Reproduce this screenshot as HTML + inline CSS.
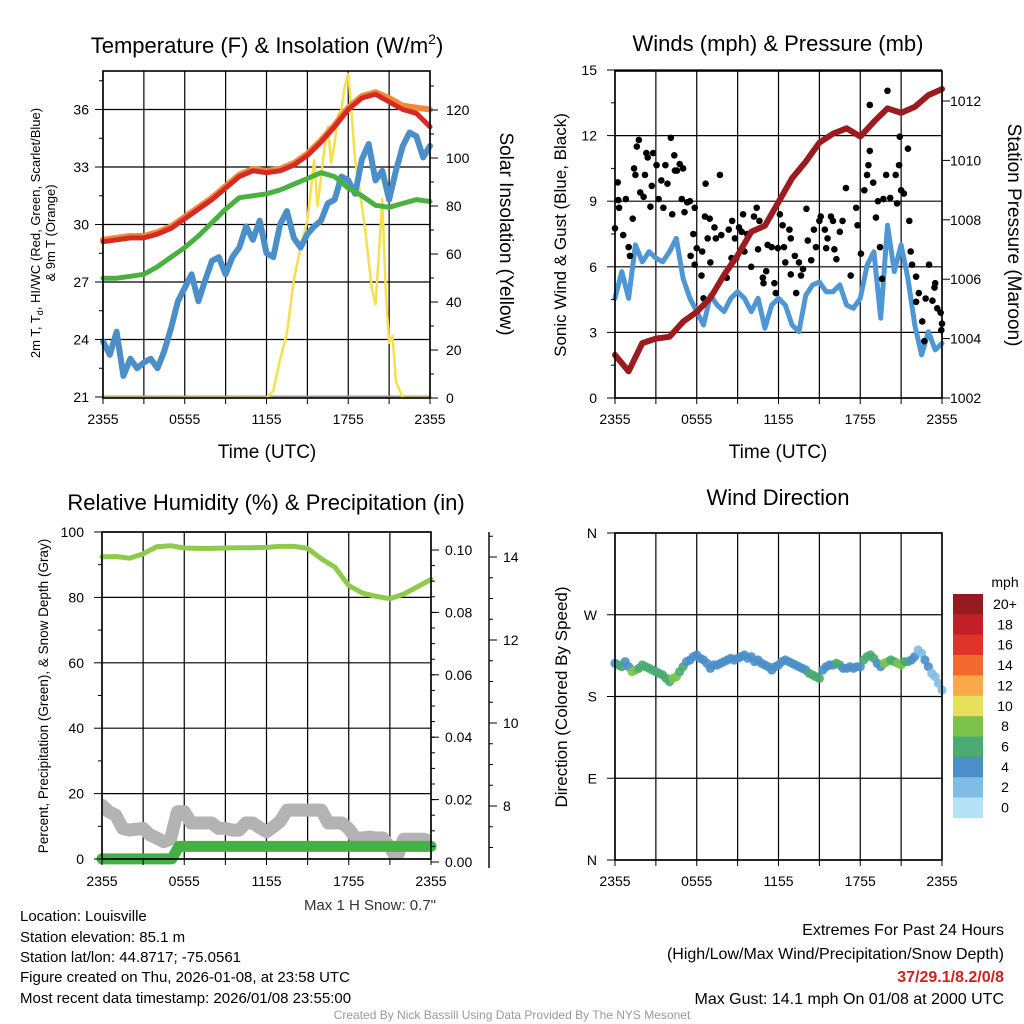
<!DOCTYPE html>
<html><head><meta charset="utf-8"><style>
html,body{margin:0;padding:0;background:#fff;}
svg{display:block;font-family:"Liberation Sans",Arial,sans-serif;}
</style></head><body>
<svg id="c" width="1024" height="1024" viewBox="0 0 1024 1024" xmlns="http://www.w3.org/2000/svg">
<g id="grids"></g><g id="marks"></g><g id="frames"></g><g id="labels"></g>
<text x="267" y="53" font-size="22" text-anchor="middle">Temperature (F) &amp; Insolation (W/m<tspan font-size="14" dy="-9">2</tspan><tspan dy="9">)</tspan></text>
<text x="778" y="51" font-size="22" text-anchor="middle">Winds (mph) &amp; Pressure (mb)</text>
<text x="266" y="510" font-size="22" text-anchor="middle">Relative Humidity (%) &amp; Precipitation (in)</text>
<text x="778" y="505" font-size="22" text-anchor="middle">Wind Direction</text>
<text x="267" y="458" font-size="19" text-anchor="middle">Time (UTC)</text>
<text x="778" y="458" font-size="19" text-anchor="middle">Time (UTC)</text>
<g font-size="13" text-anchor="middle">
<text transform="translate(40,233) rotate(-90)">2m T, T<tspan font-size="9" dy="3">d</tspan><tspan dy="-3">, HI/WC (Red, Green, Scarlet/Blue)</tspan></text>
<text transform="translate(55,233) rotate(-90)">&amp; 9m T (Orange)</text></g>
<text transform="translate(500,234) rotate(90)" font-size="19" text-anchor="middle">Solar Insolation (Yellow)</text>
<text transform="translate(566,235) rotate(-90)" font-size="17" text-anchor="middle">Sonic Wind &amp; Gust (Blue, Black)</text>
<text transform="translate(1008,235) rotate(90)" font-size="19" text-anchor="middle">Station Pressure (Maroon)</text>
<text transform="translate(48,696) rotate(-90)" font-size="13.5" text-anchor="middle">Percent, Precipitation (Green), &amp; Snow Depth (Gray)</text>
<text transform="translate(567,697) rotate(-90)" font-size="17" text-anchor="middle">Direction (Colored By Speed)</text>
<text x="436" y="910" font-size="15" fill="#333" text-anchor="end">Max 1 H Snow: 0.7"</text>
<g font-size="15">
<text x="20" y="921">Location: Louisville</text>
<text x="20" y="942">Station elevation: 85.1 m</text>
<text x="20" y="962">Station lat/lon: 44.8717; -75.0561</text>
<text x="20" y="982">Figure created on Thu, 2026-01-08, at 23:58 UTC</text>
<text x="20" y="1003">Most recent data timestamp: 2026/01/08 23:55:00</text></g>
<g font-size="16" text-anchor="end">
<text x="1004" y="935">Extremes For Past 24 Hours</text>
<text x="1004" y="959">(High/Low/Max Wind/Precipitation/Snow Depth)</text>
<text x="1004" y="982" fill="#d02020" font-weight="bold">37/29.1/8.2/0/8</text>
<text x="1004" y="1004">Max Gust: 14.1 mph On 01/08 at 2000 UTC</text></g>
<text x="512" y="1019" font-size="12" fill="#999" text-anchor="middle">Created By Nick Bassill Using Data Provided By The NYS Mesonet</text>
</svg>
<script>
const tempRed=[29.1,29.2,29.3,29.3,29.5,29.8,30.3,30.8,31.3,31.9,32.5,32.8,32.7,32.8,33.1,33.6,34.3,35.1,36.0,36.6,36.8,36.4,36.0,35.8,35.1];
const temp9m=[29.2,29.3,29.4,29.4,29.6,29.9,30.4,30.9,31.4,32.0,32.6,32.9,32.8,32.9,33.2,33.7,34.4,35.2,36.1,36.7,36.9,36.6,36.2,36.1,36.0];
const dewGreen=[27.2,27.2,27.3,27.4,27.8,28.3,28.8,29.4,30.1,30.8,31.4,31.5,31.6,31.8,32.1,32.4,32.7,32.5,31.9,31.5,31.0,30.9,31.1,31.3,31.2];
const windChill=[23.9,23.2,24.4,22.1,23.0,22.5,22.8,23.0,22.5,23.4,24.6,26.0,26.7,27.4,26.0,27.1,28.1,28.3,27.4,28.3,28.8,29.9,29.2,30.2,28.5,28.3,30.0,30.7,29.3,28.8,29.5,29.9,30.2,31.1,31.3,32.5,32.3,31.6,33.4,34.2,32.3,32.8,31.3,32.8,34.1,34.8,34.6,33.5,34.1];
const solarHours=[0,12,12.5,13,13.5,14,14.5,15,15.5,15.75,16,16.25,16.5,16.75,17,17.25,17.5,17.75,18,18.25,18.5,18.75,19,19.25,19.5,19.75,20,20.25,20.5,20.75,21,21.25,21.5,22,24];
const solarVals=[0,0,3,16,27,49,63,74,99,80,92,104,113,98,106,118,120,130,135,118,99,90,80,70,57,45,39,60,83,45,23,26,7,0,0];
const pressure=[1003.45,1002.9,1003.85,1004.0,1004.06,1004.57,1004.9,1005.37,1006.14,1006.8,1007.6,1007.8,1008.6,1009.4,1009.96,1010.6,1010.9,1011.08,1010.8,1011.3,1011.75,1011.6,1011.8,1012.2,1012.4];
const windSpeed=[4.56,5.78,4.56,7.0,6.23,6.69,6.4,6.23,6.69,7.3,5.47,4.56,3.95,3.34,4.7,4.25,3.95,4.56,4.86,4.56,3.95,4.56,3.19,4.25,4.56,4.25,3.34,3.03,4.7,5.17,5.3,4.86,4.86,5.17,4.25,4.1,4.56,6.08,6.69,3.65,7.9,5.78,7.0,5.47,3.34,1.97,3.03,2.2,2.5];
const gustHours=[0,0.2,0.24,0.3,0.6,0.8,1.0,1.1,1.3,1.4,1.5,1.6,1.75,1.85,2.1,2.2,2.3,2.4,2.6,2.7,2.8,3.05,3.2,3.4,3.55,3.7,3.85,4.1,4.2,4.35,4.4,4.55,4.75,4.9,5.0,5.1,5.3,5.5,5.55,5.75,5.85,6.0,5.85,6.4,6.35,6.5,6.65,6.6,6.8,6.95,7.0,7.3,7.4,7.7,7.8,8.2,8.35,8.55,8.6,8.8,8.9,9.1,9.3,9.4,9.5,9.7,10.0,10.2,10.4,10.5,10.6,10.85,10.9,11.1,11.2,11.5,11.7,11.8,11.95,12.1,12.3,12.4,12.5,12.8,12.9,12.9,13.2,13.3,13.5,13.65,13.8,14.05,14.15,14.4,14.6,14.75,15.0,15.1,15.4,15.5,15.6,15.85,16.0,16.1,16.25,16.5,16.7,16.95,17.3,17.7,17.8,18.05,18.3,18.5,18.6,18.7,18.7,18.95,19.15,19.3,19.45,19.6,19.7,19.9,20.0,20.2,20.6,20.7,20.85,20.9,21.0,21.2,21.5,21.6,21.7,21.8,22.1,22.1,22.3,22.55,22.7,22.8,23.05,23.3,23.45,23.5,23.65,23.9,23.95,24];
const gustVals=[7.76,9.86,9.05,8.7,7.45,9.1,6.9,6.5,8.2,10.5,10.2,11.5,11.8,9.4,9.2,10.2,11.2,11.0,8.75,9.7,11.2,10.65,9.1,9.95,8.7,10.65,9.8,11.9,8.4,11.1,10.4,10.4,10.7,9.1,10.5,8.5,8.95,9.0,6.5,7.5,8.7,6.85,6.1,6.7,5.6,4.56,9.8,8.3,7.3,8.2,6.2,7.8,7.3,10.2,7.45,5.5,7.7,6.4,8.1,7.3,6.4,7.8,7.6,8.4,6.7,7.5,6.0,8.3,8.7,6.8,8.1,5.5,5.25,5.8,7.0,6.9,5.25,4.8,6.85,8.4,7.9,6.9,6.2,7.7,7.3,5.65,6.5,4.8,6.2,5.6,5.9,8.65,7.2,6.3,7.7,6.9,8.1,8.3,7.7,6.85,7.3,8.3,8.1,6.8,6.35,7.6,8.1,9.6,5.6,8.7,7.9,6.6,9.5,10.2,10.65,11.3,13.4,9.85,8.25,9.0,6.9,5.45,9.1,10.2,14.05,9.15,10.2,8.9,10.65,11.95,9.5,9.35,11.4,8.1,6.7,6.1,5.55,4.4,4.8,3.5,2.6,4.55,6.1,4.45,5.05,5.25,4.1,3.9,3.1,3.4];
const rhVals=[92.4,92.5,92.0,93.3,95.5,95.8,95.1,95.0,95.0,95.1,95.2,95.2,95.3,95.6,95.6,95.0,91.8,89.2,83.6,81.3,80.3,79.6,81.0,83.2,85.5];
const snowDepth=[8.02,7.86,7.78,7.46,7.42,7.44,7.46,7.3,7.23,7.14,7.2,7.86,7.86,7.59,7.59,7.59,7.59,7.46,7.46,7.42,7.42,7.59,7.59,7.48,7.38,7.5,7.63,7.9,7.9,7.9,7.9,7.9,7.9,7.59,7.59,7.59,7.45,7.23,7.23,7.25,7.23,7.23,7.0,6.75,7.2,7.2,7.2,7.2,7.14];
const precipVals=[0.001,0.001,0.001,0.001,0.001,0.001,0.005,0.005,0.005,0.005,0.005,0.005,0.005,0.005,0.005,0.005,0.005,0.005,0.005,0.005,0.005,0.005,0.005,0.005,0.005];
const precipHours=[0,1,2,3,4,5.1,5.6,7,8,9,10,11,12,13,14,15,16,17,18,19,20,21,22,23,24];
const dirZy=[40,45,50,35,50,65,60,55,45,50,55,60,65,70,75,85,95,85,80,65,50,35,30,20,15,25,30,40,55,45,45,40,35,30,25,30,25,20,15,25,20,35,30,40,45,50,60,50,45,35,30,35,40,45,50,55,60,70,75,80,85,60,50,45,45,40,45,55,55,50,55,50,50,30,20,15,25,40,50,40,35,30,35,40,45,35,35,30,20,0,10,30,50,70,80,100,120];
const speedColors=['#b5e2f7','#7fbde6','#4a8fc8','#4aaa70','#7cc24b','#e6e05a','#f9a84a','#f26a2e','#e0342a','#c21f26','#951b1e'];
const speedLabels=['0','2','4','6','8','10','12','14','16','18','20+'];
const tempTicks=[21,24,27,30,33,36];
const solarTicks=[0,20,40,60,80,100,120];
const windTicks=[0,3,6,9,12,15];
const presTicks=[1002,1004,1006,1008,1010,1012];
const rhTicks=[0,20,40,60,80,100];
const precipTicks=['0.00','0.02','0.04','0.06','0.08','0.10'];
const snowTicks=[8,10,12,14];
const dirTicks=['N','E','S','W','N'];
const timeLabels=['2355','0555','1155','1755','2355'];

const NS='http://www.w3.org/2000/svg';
const G=id=>document.getElementById(id);
function mk(tag,attrs,parent){const e=document.createElementNS(NS,tag);for(const k in attrs)e.setAttribute(k,attrs[k]);(parent||G('marks')).appendChild(e);return e;}
function txt(s,x,y,anchor,size,parent){const t=mk('text',{x:x,y:y,'text-anchor':anchor,'font-size':size||14},parent||G('labels'));t.textContent=s;return t;}
function lin(a,b){return v=>a[1]+(v-a[0])*(b[1]-a[1])/(b[0]-a[0]);}
function pathD(xs,ys){return xs.map((x,i)=>(i?'L':'M')+x.toFixed(1)+','+ys[i].toFixed(1)).join('');}

function panel(name,x0,x1,y0,y1){
  const xs=lin([0,x0],[24,x1]);
  for(let h=0;h<=24;h+=3){const x=xs(h);
    const gl=mk('line',{x1:x,x2:x,y1:y0,y2:y1,stroke:'#000','stroke-width':1.2},G('grids'));
    
    
    mk('line',{x1:x,x2:x,y1:y1,y2:y1+6,stroke:'#000','stroke-width':1},G('frames'));}
  const fr=mk('rect',{x:x0,y:y0,width:x1-x0,height:y1-y0,fill:'none',stroke:'#000','stroke-width':1.6},G('frames'));
  
  
  return xs;
}
function hgrid(name,x0,x1,y){const l=mk('line',{x1:x0,x2:x1,y1:y,y2:y,stroke:'#000','stroke-width':1.2},G('grids'));
  
  }
function timeAxis(name,xs,y){timeLabels.forEach((s,i)=>{const t=txt(s,xs(i*6),y,'middle',14);
  
  });}
function seriesLine(name,xs,ys,color,w,extra){const p=mk('path',Object.assign({d:pathD(xs,ys),fill:'none',stroke:color,'stroke-width':w,'stroke-linejoin':'round','stroke-linecap':'round'},extra||{}));
  
  return p;}
function clip(id,x0,y0,x1,y1){const d=document.querySelector('#c defs')||mk('defs',{},G('c'));const cp=mk('clipPath',{id:id},d);mk('rect',{x:x0,y:y0,width:x1-x0,height:y1-y0},cp);}
clip('cp3',102,532,431,859);

{const x0=103,x1=430,y0=71,y1=398;const xs=panel('temperature',x0,x1,y0,y1);
 const ty=lin([21,397],[36,109.5]);const sy=lin([0,398],[120,110]);
 tempTicks.forEach(v=>{hgrid('temperature',x0,x1,ty(v));mk('line',{x1:x0-8,x2:x0,y1:ty(v),y2:ty(v),stroke:'#000'},G('frames'));
   const t=txt(v,x0-14,ty(v)+5,'end',14);});
 for(let v=22.5;v<38;v+=3)mk('line',{x1:x0-4,x2:x0,y1:ty(v),y2:ty(v),stroke:'#000'},G('frames'));
 solarTicks.forEach(v=>{mk('line',{x1:x1,x2:x1+8,y1:sy(v),y2:sy(v),stroke:'#000'},G('frames'));
   const t=txt(v,x1+16,sy(v)+5,'start',14);});
 for(let v=10;v<136;v+=20)mk('line',{x1:x1,x2:x1+4,y1:sy(v),y2:sy(v),stroke:'#000'},G('frames'));
 timeAxis('temperature',xs,424);
 seriesLine('baseline-gray',[x0,x1],[ty(21),ty(21)],'#999',3);
 seriesLine('insolation-line',solarHours.map(xs),solarVals.map(sy),'#f7e04a',2.5);
 seriesLine('blue-windchill-line',windChill.map((v,i)=>xs(i/2)),windChill.map(ty),'#4a8fc8',6);
 seriesLine('green-dewpoint-line',dewGreen.map((v,i)=>xs(i)),dewGreen.map(ty),'#4ab040',5);
 seriesLine('orange-9m-temp-line',temp9m.map((v,i)=>xs(i)),temp9m.map(ty),'#f08a3a',6);
 seriesLine('red-2m-temp-line',tempRed.map((v,i)=>xs(i)),tempRed.map(ty),'#d62a24',5);
}
{const x0=615,x1=942,y0=71,y1=398;const xs=panel('winds',x0,x1,y0,y1);
 const wy=lin([0,398],[15,70]);const py=lin([1002,398],[1012,101]);
 windTicks.forEach(v=>{hgrid('winds',x0,x1,wy(v));mk('line',{x1:x0-8,x2:x0,y1:wy(v),y2:wy(v),stroke:'#000'},G('frames'));
   const t=txt(v,x0-18,wy(v)+5,'end',14);});
 for(let v=1.5;v<15;v+=3)mk('line',{x1:x0-4,x2:x0,y1:wy(v),y2:wy(v),stroke:'#000'},G('frames'));
 presTicks.forEach(v=>{mk('line',{x1:x1,x2:x1+8,y1:py(v),y2:py(v),stroke:'#000'},G('frames'));
   const t=txt(v,x1+8,py(v)+5,'start',14);});
 timeAxis('winds',xs,424);
 seriesLine('wind-speed-line',windSpeed.map((v,i)=>xs(i/2)),windSpeed.map(wy),'#4f97d4',5);
 gustVals.forEach((v,i)=>{const c=mk('circle',{cx:xs(gustHours[i]),cy:wy(v),r:3.3,fill:'#000'});
   
   });
 seriesLine('pressure-line',pressure.map((v,i)=>xs(i)),pressure.map(py),'#9b1b1e',6);
}
{const x0=102,x1=431,y0=532,y1=859;const xs=panel('humidity',x0,x1,y0,y1);
 const ry=lin([0,859],[100,532]);const ppy=lin([0,862],[0.1,550]);const sdy=lin([8,806],[14,557]);
 rhTicks.forEach(v=>{hgrid('humidity',x0,x1,ry(v));mk('line',{x1:x0-8,x2:x0,y1:ry(v),y2:ry(v),stroke:'#000'},G('frames'));
   const t=txt(v,x0-18,ry(v)+5,'end',14);});
 for(let v=10;v<100;v+=20)mk('line',{x1:x0-4,x2:x0,y1:ry(v),y2:ry(v),stroke:'#000'},G('frames'));
 precipTicks.forEach(s=>{const y=ppy(parseFloat(s));mk('line',{x1:x1,x2:x1+8,y1:y,y2:y,stroke:'#000'},G('frames'));
   const t=txt(s,x1+14,y+5,'start',14);});
 for(let v=0.005;v<0.105;v+=0.005)mk('line',{x1:x1,x2:x1+4,y1:ppy(v),y2:ppy(v),stroke:'#000'},G('frames'));
 const sa=mk('line',{x1:489,x2:489,y1:532,y2:868,stroke:'#000','stroke-width':1.4},G('frames'));
 
 snowTicks.forEach(v=>{mk('line',{x1:489,x2:497,y1:sdy(v),y2:sdy(v),stroke:'#000'},G('frames'));
   const t=txt(v,503,sdy(v)+5,'start',14);});
 for(let v=7;v<14.8;v+=0.5)if(v%2)mk('line',{x1:489,x2:493,y1:sdy(v),y2:sdy(v),stroke:'#000'},G('frames'));
 timeAxis('humidity',xs,886);
 seriesLine('snow-depth-line',snowDepth.map((v,i)=>xs(i/2)),snowDepth.map(sdy),'#b3b3b3',13,{'clip-path':'url(#cp3)'});
 seriesLine('precip-line',precipHours.map(xs),precipVals.map(ppy),'#45b045',11);
 seriesLine('rh-line',rhVals.map((v,i)=>xs(i)),rhVals.map(ry),'#8fca4d',5);
}
{const x0=615,x1=942,y0=533,y1=860;const xs=panel('direction',x0,x1,y0,y1);
 const dy=lin([0,860],[360,533]);
 dirTicks.forEach((s,i)=>{const y=dy(i*90);hgrid('direction',x0,x1,y);mk('line',{x1:x0-8,x2:x0,y1:y,y2:y,stroke:'#000'},G('frames'));
   const t=txt(s,x0-18,y+5,'end',14);});
 timeAxis('direction',xs,886);
 dirZy.forEach((z,i)=>{const deg=(210-z/3)*360/327;const sp=windSpeed[Math.min(48,Math.round(i/2))];
   const c=mk('circle',{cx:xs(i/4),cy:dy(deg),r:4.6,fill:speedColors[Math.min(10,Math.round(sp/2))],'fill-opacity':0.9});
   
   });
 const lt=txt('mph',1005,587,'middle',14);
 for(let k=10;k>=0;k--){const y=594+(10-k)*20.36;
   const r=mk('rect',{x:953,y:y,width:30,height:20.6,fill:speedColors[k]},G('labels'));
   
   
   const t=txt(speedLabels[k],1005,y+15,'middle',14);
   
   }
}
</script>
</body></html>
